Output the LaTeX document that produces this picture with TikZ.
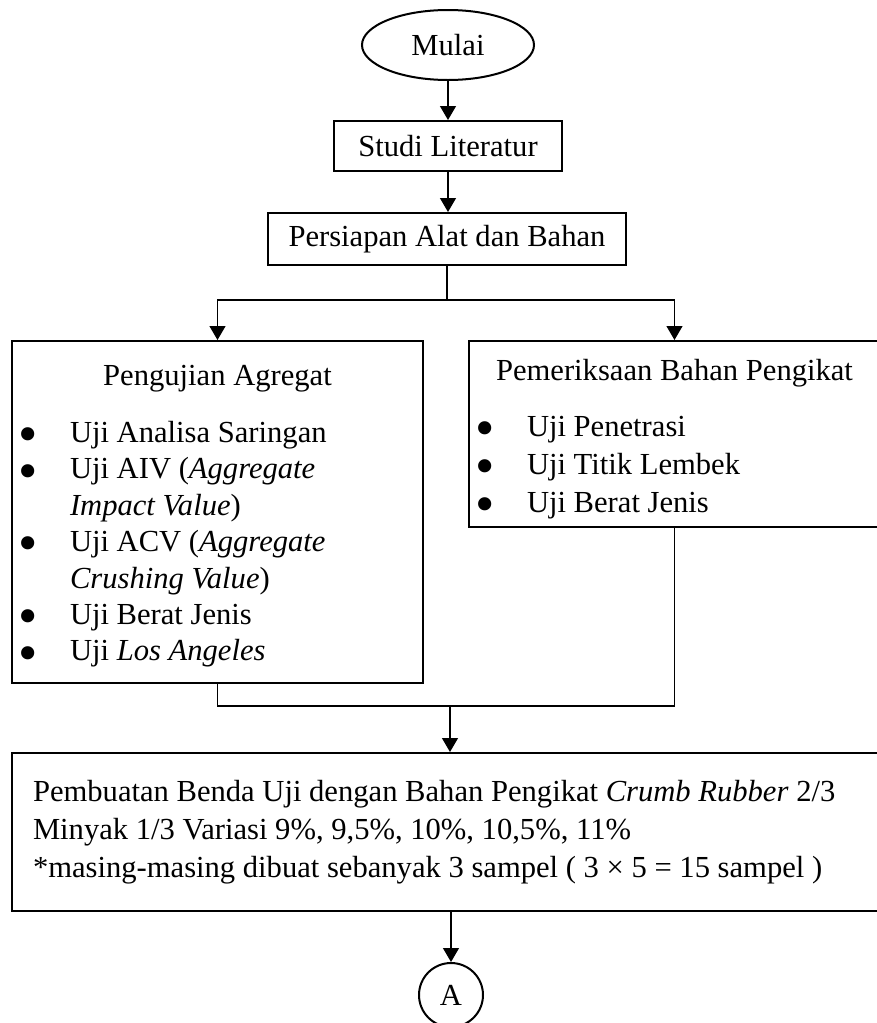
\documentclass[tikz,border=0pt]{standalone}
\usepackage{fontspec}
\usepackage{graphicx}
\setmainfont{Liberation Serif}
\usetikzlibrary{shapes.geometric,arrows.meta}
\newcommand{\titik}{\raisebox{-0.33em}[0pt][0pt]{\scalebox{1.8}{\textbullet}}}

\begin{document}
\begin{tikzpicture}[x = 0.5pt, y = -0.5pt,
    kotak/.style = {draw, line width = 1pt, inner sep = 0pt},
    panah/.style = {-{Triangle[width = 8pt, length = 7pt]}, line width = 0.6pt},
    garis/.style = {line width = 0.6pt},
    font = \fontsize{15.3}{18.2}\selectfont]
  \useasboundingbox (0, 0) rectangle (877, 1023);
  \node[kotak, ellipse, minimum width = 86pt, minimum height = 35pt] (mulai) at (448, 45) {Mulai};
  \node[kotak, minimum width = 114pt, minimum height = 25pt] (studi) at (448, 146) {Studi Literatur};
  \node[kotak, minimum width = 179pt, minimum height = 26pt] (persiapan) at (447, 239) {Persiapan Alat dan Bahan};
  \node[kotak, minimum height = 171pt] (agregat) at (217.5, 512) {%
    \begin{tabular}{@{}p{29pt}@{}p{176.5pt}@{}}
      \noalign{\vskip 4pt}
      \multicolumn{2}{@{}l@{}}{\makebox[205.5pt]{Pengujian Agregat}} \\[10.3pt]
      \hspace{3.45pt}\titik & Uji Analisa Saringan \\
      \hspace{3.45pt}\titik & Uji AIV (\textit{Aggregate} \\
      & \textit{Impact Value}) \\
      \hspace{3.45pt}\titik & Uji ACV (\textit{Aggregate} \\
      & \textit{Crushing Value}) \\
      \hspace{3.45pt}\titik & Uji Berat Jenis \\
      \hspace{3.45pt}\titik & Uji \textit{Los Angeles}
    \end{tabular}};
  \node[kotak, minimum height = 93pt] (pengikat) at (674.5, 434) {%
    \fontsize{15.3}{19}\selectfont
    \begin{tabular}{@{}p{29pt}@{}p{176.5pt}@{}}
      \noalign{\vskip 5pt}
      \multicolumn{2}{@{}l@{}}{\makebox[205.5pt]{Pemeriksaan Bahan Pengikat}} \\[9pt]
      \hspace{3.2pt}\titik & Uji Penetrasi \\
      \hspace{3.2pt}\titik & Uji Titik Lembek \\
      \hspace{3.2pt}\titik & Uji Berat Jenis
    \end{tabular}};
  \node[kotak, minimum height = 79pt] (pembuatan) at (450, 832) {%
    \fontsize{15.3}{19}\selectfont
    \begin{tabular}{@{\hspace{10.5pt}}p{427.5pt}@{}}
      Pembuatan Benda Uji dengan Bahan Pengikat \textit{Crumb Rubber} 2/3 \\
      Minyak 1/3 Variasi 9\%, 9,5\%, 10\%, 10,5\%, 11\% \\
      {*}masing-masing dibuat sebanyak 3 sampel ( 3 × 5 = 15 sampel )
    \end{tabular}};
  \node[kotak, circle, minimum size = 32pt] (konektor) at (451, 995) {A};
  \coordinate (gabung) at (450, 706);
  \draw[panah] (mulai) -- (studi);
  \draw[panah] (studi) -- (persiapan.north -| studi);
  \draw[panah] (persiapan.south) -- ++(0, 34) -| (agregat.north);
  \draw[panah] (persiapan.south) -- ++(0, 34) -| (pengikat.north);
  \draw[garis] (agregat.south) |- (gabung) -| (pengikat.south);
  \draw[panah] (gabung) -- (pembuatan.north -| gabung);
  \draw[panah] (pembuatan.south -| konektor) -- (konektor);
\end{tikzpicture}
\end{document}
